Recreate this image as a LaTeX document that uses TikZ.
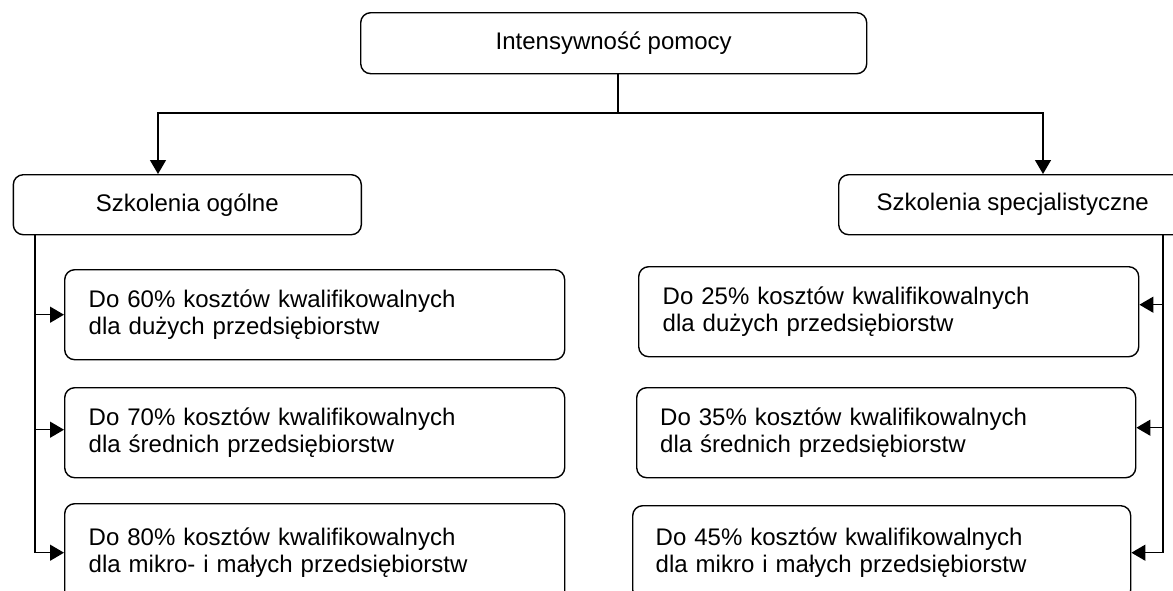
\documentclass[tikz,border=0pt]{standalone}
\usepackage{fontspec}
\setmainfont{Liberation Sans}
\usetikzlibrary{arrows.meta}
\begin{document}
\begin{tikzpicture}[x=1pt,y=-1pt,
  box/.style={draw, line width=1.4pt, rounded corners=10pt, anchor=north west,
    font=\fontsize{24}{27.6}\selectfont, inner sep=0pt},
  item/.style={box, minimum width=500pt, minimum height=90pt, text width=452pt, align=left},
  arr/.style={line width=1.4pt, -{Triangle[length=14pt,width=16pt]}},
  ln/.style={line width=1.4pt}]
\useasboundingbox (0,0) rectangle (1173,590);
\clip (0,0) rectangle (1173,590);

% main nodes
\node[box, minimum width=506pt, minimum height=61pt] (top) at (360,12) {Intensywność pomocy};
\node[box, minimum width=348pt, minimum height=60pt] (gen) at (12.6,174) {Szkolenia ogólne};
\node[box, minimum width=348pt, minimum height=60pt] (spec) at (838,174) {Szkolenia specjalistyczne};

% left items
\node[item] (l1) at (64,269) {Do 60\% kosztów kwalifikowalnych\\dla dużych przedsiębiorstw};
\node[item] (l2) at (64,387) {Do 70\% kosztów kwalifikowalnych\\dla średnich przedsiębiorstw};
\node[item, minimum height=98pt] (l3) at (64,503) {Do 80\% kosztów kwalifikowalnych\\dla mikro- i małych przedsiębiorstw};

% right items
\node[item] (r1) at (638,266) {Do 25\% kosztów kwalifikowalnych\\dla dużych przedsiębiorstw};
\node[item, minimum width=499pt] (r2) at (636,387) {Do 35\% kosztów kwalifikowalnych\\dla średnich przedsiębiorstw};
\node[item, minimum width=498pt, minimum height=94pt] (r3) at (632,505) {Do 45\% kosztów kwalifikowalnych\\dla mikro i małych przedsiębiorstw};

% top connectors
\coordinate (j) at (618,113);
\coordinate (gL) at (158,113);
\coordinate (gR) at (1043,113);
\draw[ln] (top.south -| j) -- (j);
\draw[arr] (j) -- (gL) -- (gL |- gen.north);
\draw[arr] (j) -- (gR) -- (gR |- spec.north);

% left bus
\coordinate (vl) at (35,300);
\draw[arr] (gen.south -| vl) |- (l3.west);
\draw[arr] (vl |- l1.west) -- (l1.west);
\draw[arr] ([yshift=3pt]vl |- l2.west) -- ([yshift=3pt]l2.west);

% right bus
\coordinate (vr) at (1163,300);
\draw[arr] (spec.south -| vr) |- (r3.east);
\draw[arr] ([yshift=7pt]vr |- r1.east) -- ([yshift=7pt]r1.east);
\draw[arr] ([yshift=5pt]vr |- r2.east) -- ([yshift=5pt]r2.east);
\end{tikzpicture}
\end{document}
